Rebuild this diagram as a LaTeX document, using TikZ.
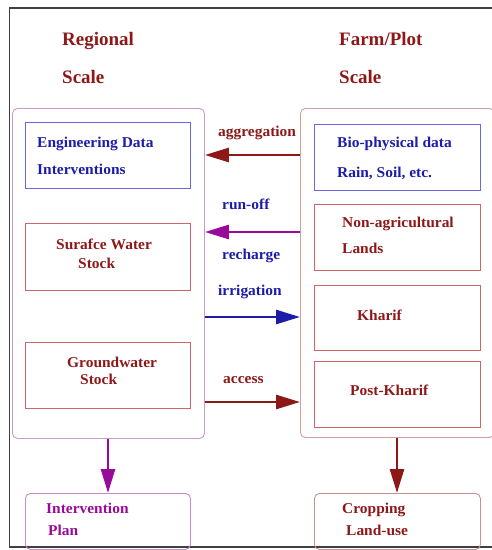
\documentclass[tikz,border=0pt]{standalone}
\usepackage{fontspec}
\setmainfont{Liberation Serif}
\newfontfamily\widefont[FakeStretch=1.03]{Liberation Serif}
\usetikzlibrary{arrows.meta}
\definecolor{dred}{HTML}{8C1818}
\definecolor{dblue}{HTML}{1C1CA8}
\definecolor{dpurple}{HTML}{9A0A9A}
\definecolor{lpurple}{HTML}{CC99CC}
\definecolor{lrose}{HTML}{CCA0A0}
\definecolor{bblue}{HTML}{6868E0}
\definecolor{bred}{HTML}{CC6666}
\begin{document}
\begin{tikzpicture}[x=1pt,y=-1pt,
  big/.style={draw, rounded corners=5pt, line width=0.9pt, anchor=north west, inner sep=0pt},
  inbox/.style={draw, line width=0.9pt, anchor=north west, inner sep=0pt},
  title/.style={font=\bfseries\fontsize{19}{22}\selectfont, text=dred, inner sep=0pt, anchor=base west},
  txt/.style={font=\widefont\bfseries\fontsize{15}{17}\selectfont, inner sep=0pt, anchor=base west},
  arr/.style={line width=2.6pt, -{Triangle[length=24pt,width=14pt]}}]
\useasboundingbox (0,0) rectangle (491,550);
% outer frame
\draw[line width=1.4pt, black!75] (495,8) -- (9.5,8) -- (9.5,547) -- (495,547);
% titles
\node[title] (t1) at (62,45) {Regional};
\node[title] (t2) at (62,83) {Scale};
\node[title] (t3) at (339,45) {Farm/Plot};
\node[title] (t4) at (339,83) {Scale};
% big boxes
\node[big, draw=lpurple, minimum width=192pt, minimum height=330pt] (lbig) at (12,108) {};
\node[big, draw=lrose, minimum width=194pt, minimum height=329pt] (rbig) at (300,108) {};
% inner left
\node[inbox, draw=bblue, minimum width=165pt, minimum height=66pt] (eng) at (25,122) {};
\node[inbox, draw=bred, minimum width=165pt, minimum height=67pt] (sw) at (25,223) {};
\node[inbox, draw=bred, minimum width=165pt, minimum height=66pt] (gw) at (25,342) {};
% inner right
\node[inbox, draw=bblue, minimum width=166pt, minimum height=66pt] (bio) at (314,124) {};
\node[inbox, draw=bred, minimum width=166pt, minimum height=66pt] (nonag) at (314,204) {};
\node[inbox, draw=bred, minimum width=166pt, minimum height=65pt] (kh) at (314,285) {};
\node[inbox, draw=bred, minimum width=166pt, minimum height=66pt] (pk) at (314,361) {};
% bottom boxes
\node[big, draw=lpurple!90!dpurple, minimum width=165pt, minimum height=56pt] (ip) at (25,493) {};
\node[big, draw=lrose!90!dred, minimum width=166pt, minimum height=56pt] (cl) at (314,493) {};
% texts
\node[txt, text=dblue] (e1) at (37,147) {Engineering Data};
\node[txt, text=dblue] (e2) at (37,174) {Interventions};
\node[txt, text=dred] (s1) at (56,249) {Surafce Water};
\node[txt, text=dred] (s2) at (78,268) {Stock};
\node[txt, text=dred] (g1) at (67,367) {Groundwater};
\node[txt, text=dred] (g2) at (80,384) {Stock};
\node[txt, text=dblue] (b1) at (337,147) {Bio{-}physical data};
\node[txt, text=dblue] (b2) at (337,177) {Rain, Soil, etc.};
\node[txt, text=dred] (n1) at (342,227) {Non{-}agricultural};
\node[txt, text=dred] (n2) at (342,253) {Lands};
\node[txt, text=dred] (k1) at (357,320) {Kharif};
\node[txt, text=dred] (p1) at (350,395) {Post{-}Kharif};
\node[txt, text=dpurple] (i1) at (46,513) {Intervention};
\node[txt, text=dpurple] (i2) at (48,535) {Plan};
\node[txt, text=dred] (c1) at (342,513) {Cropping};
\node[txt, text=dred] (c2) at (346,535) {Land{-}use};
% arrow labels
\node[txt, text=dred] (la) at (218,136) {aggregation};
\node[txt, text=dblue] (lr) at (222,209) {run{-}off};
\node[txt, text=dblue] (lc) at (222,259) {recharge};
\node[txt, text=dblue] (li) at (218,295) {irrigation};
\node[txt, text=dred] (lx) at (223,383) {access};
% arrow levels
\coordinate (ya) at (0,155);
\coordinate (yr) at (0,232);
\coordinate (yi) at (0,317);
\coordinate (yx) at (0,402);
\coordinate (xl) at (108,0);
\coordinate (xr) at (397,0);
\draw[arr, dred] (rbig.west |- ya) -- (lbig.east |- ya);
\draw[arr, dpurple] (rbig.west |- yr) -- (lbig.east |- yr);
\draw[arr, dblue] (lbig.east |- yi) -- (rbig.west |- yi);
\draw[arr, dred] (lbig.east |- yx) -- (rbig.west |- yx);
\draw[arr, dpurple] (xl |- lbig.south) -- (xl |- ip.north);
\draw[arr, dred] (xr |- rbig.south) -- (xr |- cl.north);
\end{tikzpicture}
\end{document}
